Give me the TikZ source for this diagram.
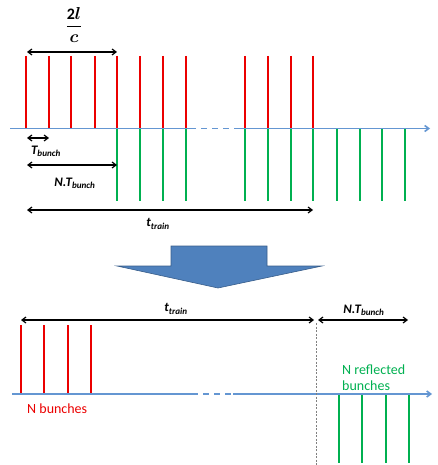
\documentclass[tikz,border=0pt]{standalone}
\usepackage{fontspec}
\setmainfont{Carlito}
\usepackage{amsmath,bm}
\usetikzlibrary{arrows.meta}
\definecolor{axisblue}{RGB}{100,150,210}
\definecolor{barred}{RGB}{235,0,0}
\definecolor{bargreen}{RGB}{0,176,80}
\definecolor{blockfill}{RGB}{79,129,189}
\definecolor{blockdraw}{RGB}{56,93,138}
\tikzset{
  axisline/.style={draw=axisblue, line width=1.6pt},
  axisdash/.style={draw=axisblue, line width=1.6pt, dash pattern=on 6pt off 5pt},
  axisarrow/.style={axisline, -{Straight Barb[length=4pt,width=6pt]}},
  redbar/.style={draw=barred, line width=2.8pt},
  greenbar/.style={draw=bargreen, line width=2.8pt},
  dim/.style={draw=black, line width=1.2pt, {Straight Barb[length=4pt,width=6pt]}-{Straight Barb[length=4pt,width=6pt]}},
  lbl/.style={font=\fontsize{13}{15}\selectfont\bfseries\itshape, inner sep=0pt},
  txt/.style={font=\fontsize{14}{16}\selectfont, inner sep=0pt, align=left},
}
\begin{document}
\begin{tikzpicture}[x=1pt,y=-1pt]
\useasboundingbox (0,0) rectangle (438,465);
% ---------- top part ----------
\coordinate (a0) at (10,128.5);
\coordinate (a1) at (190,128.5);
\coordinate (a2) at (238,128.5);
\coordinate (a3) at (430,128.5);
\foreach \x in {26,49,71,95,117,140,163,186,245,268,291,313}
  \draw[redbar] (\x,56) -- (\x,128.5);
\foreach \x in {117,140,163,186,245,268,291,313,337,360,382,405}
  \draw[greenbar] (\x,128.5) -- (\x,201);
\draw[axisline] (a0) -- (a1);
\draw[axisdash] (a1) -- (a2);
\draw[axisarrow] (a2) -- (a3);
% dimension arrows
\coordinate (f0) at (27,52);  \coordinate (f1) at (117,52);
\draw[dim] (f0) -- (f1);
\node (frac) at (74,25) {\fontsize{16}{18}\selectfont$\dfrac{\mathbf{2}\bm{l}}{\bm{c}}$};
\coordinate (tb0) at (27,138); \coordinate (tb1) at (49,138);
\draw[dim] (tb0) -- (tb1);
\node[lbl] (tbl) at (46,151) {T\textsubscript{bunch}};
\coordinate (nt0) at (27,165); \coordinate (nt1) at (117,165);
\draw[dim] (nt0) -- (nt1);
\node[lbl] (ntl) at (75,183) {N.T\textsubscript{bunch}};
\coordinate (tt0) at (27,210); \coordinate (tt1) at (313,210);
\draw[dim] (tt0) -- (tt1);
\node[lbl] (ttl) at (158,224) {t\textsubscript{train}};
% ---------- block arrow ----------
\draw[fill=blockfill, draw=blockdraw, line width=0.6pt]
  (171,246) -- (267,246) -- (267,266) -- (322,266) -- (218,288) -- (117,266) -- (171,266) -- cycle;
% ---------- bottom part ----------
\coordinate (b0) at (12,394);
\coordinate (b1) at (192,394);
\coordinate (b2) at (233,394);
\coordinate (b3) at (432,394);
\foreach \x in {21,44,68,91}
  \draw[redbar] (\x,325) -- (\x,394);
\foreach \x in {339,362,386,409}
  \draw[greenbar] (\x,394) -- (\x,463);
\draw[axisline] (b0) -- (b1);
\draw[axisdash] (b1) -- (b2);
\draw[axisarrow] (b2) -- (b3);
\coordinate (v0) at (316,323); \coordinate (v1) at (316,465);
\draw[gray, line width=0.7pt, dash pattern=on 2pt off 1.5pt] (v0) -- (v1);
\coordinate (bt0) at (21,320); \coordinate (bt1) at (314,320);
\draw[dim] (bt0) -- (bt1);
\node[lbl] (bttl) at (176,309) {t\textsubscript{train}};
\coordinate (bn0) at (318,320); \coordinate (bn1) at (408,320);
\draw[dim] (bn0) -- (bn1);
\node[lbl] (bntl) at (364,310) {N.T\textsubscript{bunch}};
\node[txt, text=barred, anchor=west] (nb) at (27,409) {N bunches};
\node[txt, text=bargreen, anchor=west] (nr) at (342,378) {N reflected\\bunches};
\end{tikzpicture}
\end{document}
